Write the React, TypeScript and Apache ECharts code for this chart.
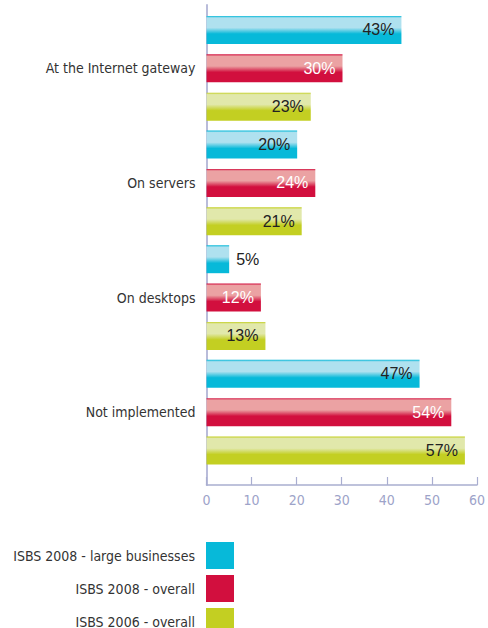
import React, { useEffect, useRef } from "react";
import * as echarts from "echarts";

const categories = ["At the Internet gateway", "On servers", "On desktops", "Not implemented"];
const seriesNames = ["ISBS 2008 - large businesses", "ISBS 2008 - overall", "ISBS 2006 - overall"];
const large2008 = [43, 20, 5, 47];
const overall2008 = [30, 24, 12, 54];
const overall2006 = [23, 21, 13, 57];
const xTicks = [0, 10, 20, 30, 40, 50, 60];

const FONT = "'Liberation Sans Narrow', 'DejaVu Sans Condensed', 'DejaVu Sans', sans-serif";

const palette = [
  { sat: "#07b9d9", light: "#afe1ef", text: "#222222" },
  { sat: "#d20f3e", light: "#eba2a3", text: "#ffffff" },
  { sat: "#c3cf22", light: "#e1e8ab", text: "#222222" },
];

function grad(p: { sat: string; light: string }) {
  return new echarts.graphic.LinearGradient(0, 0, 0, 1, [
    { offset: 0, color: p.sat },
    { offset: 0.07, color: p.light },
    { offset: 0.42, color: p.light },
    { offset: 0.64, color: p.sat },
    { offset: 1, color: p.sat },
  ]);
}

export default function App() {
  const ref = useRef<HTMLDivElement>(null);
  useEffect(() => {
    if (!ref.current) return;
    const chart = echarts.init(ref.current, undefined, { renderer: "svg" });
    const lists = [large2008, overall2008, overall2006];
    const series = lists.map((vals, i) => ({
      name: seriesNames[i],
      type: "bar",
      xAxisIndex: 0,
      yAxisIndex: 0,
      barWidth: 28,
      barGap: "37%",
      itemStyle: { color: grad(palette[i]) },
      label: {
        show: true,
        position: "insideRight",
        distance: 7,
        formatter: "{c}%",
        color: palette[i].text,
        fontSize: 16,
        fontFamily: "'Liberation Sans', Arial, sans-serif",
      },
      data: vals.map((v) =>
        v < 8
          ? { value: v, label: { position: "right", distance: 7, color: "#222222" } }
          : v
      ),
    }));
    chart.setOption({
      animation: false,
      grid: [
        { left: 206.5, right: 9.5, top: 11, height: 458.5 },
        { left: 206.5, right: 9.5, top: 5, height: 480 },
      ],
      xAxis: [
        {
          gridIndex: 0,
          type: "value",
          min: 0,
          max: 60,
          interval: 10,
          show: false,
          splitLine: { show: false },
        },
        {
          gridIndex: 1,
          type: "value",
          min: 0,
          max: 60,
          interval: 10,
          data: xTicks,
          axisLine: { show: true, lineStyle: { color: "#a9aed0", width: 1.5 } },
          axisTick: { show: true, inside: true, length: 8, lineStyle: { color: "#a9aed0", width: 1.2 } },
          axisLabel: { color: "#9da3c9", fontSize: 14, margin: 8, fontFamily: FONT },
          splitLine: { show: false },
        },
      ],
      yAxis: [
        {
          gridIndex: 0,
          type: "category",
          data: categories,
          inverse: true,
          axisLine: { show: false },
          axisTick: { show: false },
          axisLabel: { color: "#333333", fontSize: 14, margin: 11, fontFamily: FONT },
        },
        {
          gridIndex: 1,
          type: "value",
          min: 0,
          max: 1,
          axisLine: { show: true, lineStyle: { color: "#b9bcda", width: 2 } },
          axisTick: { show: false },
          axisLabel: { show: false },
          splitLine: { show: false },
        },
      ],
      legend: {
        orient: "vertical",
        align: "right",
        right: 254,
        top: 542,
        height: 120,
        padding: 0,
        itemWidth: 28,
        itemHeight: 27,
        itemGap: 6,
        icon: "rect",
        selectedMode: false,
        textStyle: { color: "#333333", fontSize: 14, fontFamily: FONT, padding: [0, 6, 0, 0] },
        data: seriesNames.map((n, i) => ({ name: n, itemStyle: { color: palette[i].sat } })),
      },
      series,
    });
    return () => chart.dispose();
  }, []);
  return <div ref={ref} style={{ width: 488, height: 628, position: "absolute", left: 0, top: 0 }} />;
}
